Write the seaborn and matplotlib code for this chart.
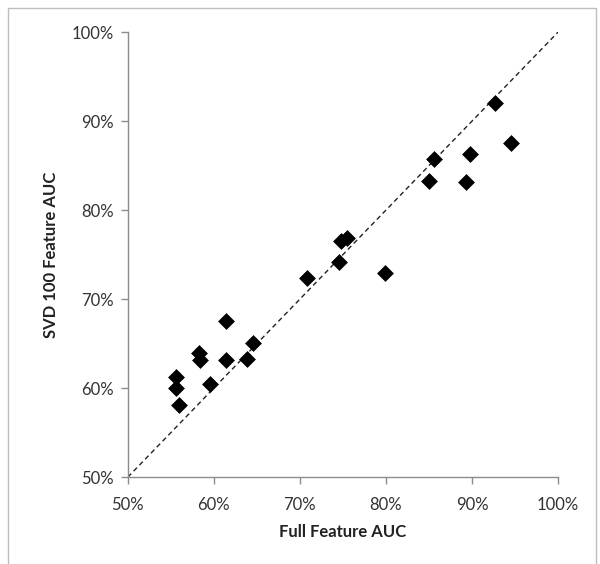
import matplotlib

matplotlib.use("Agg")
import matplotlib.pyplot as plt
import seaborn as sns
import pandas as pd
from matplotlib.patches import Rectangle
from matplotlib.ticker import PercentFormatter, MultipleLocator


full_auc = [0.556, 0.556, 0.559, 0.583, 0.584, 0.596, 0.614, 0.614, 0.639, 0.645,
            0.708, 0.745, 0.748, 0.755, 0.799, 0.850, 0.856, 0.893, 0.898, 0.927, 0.945]
svd_auc = [0.612, 0.600, 0.581, 0.639, 0.632, 0.605, 0.676, 0.632, 0.633, 0.651,
           0.724, 0.742, 0.765, 0.769, 0.729, 0.833, 0.857, 0.832, 0.863, 0.920, 0.875]
diag = [0.5, 1.0]

df = pd.DataFrame({"full": full_auc, "svd": svd_auc})

sns.set_style("white")
plt.rcParams["font.family"] = ["Lato", "DejaVu Sans"]

fig = plt.figure(figsize=(6.0, 5.64), dpi=100)
ax = fig.add_axes([0.213, 0.154, 0.717, 0.789])

# light chart border like the spreadsheet original
fig.patches.append(Rectangle((8 / 600, -0.01), 588 / 600, 1 - 8 / 564 + 0.01,
                             transform=fig.transFigure, fill=False,
                             edgecolor="#bdbdbd", linewidth=1.0))

ax.plot(diag, diag, color="#222222", linestyle=(0, (3.5, 2.5)), linewidth=1.0, zorder=1)
sns.scatterplot(data=df, x="full", y="svd", marker="D", s=65, color="black",
                edgecolor="black", linewidth=0.5, ax=ax, zorder=3)

ax.set_xlim(0.5, 1.0)
ax.set_ylim(0.5, 1.0)
ax.xaxis.set_major_locator(MultipleLocator(0.1))
ax.yaxis.set_major_locator(MultipleLocator(0.1))
ax.xaxis.set_major_formatter(PercentFormatter(1.0, decimals=0))
ax.yaxis.set_major_formatter(PercentFormatter(1.0, decimals=0))

for side in ["top", "right"]:
    ax.spines[side].set_visible(False)
for side in ["left", "bottom"]:
    ax.spines[side].set_color("#8c8c8c")
    ax.spines[side].set_linewidth(1.0)

ax.tick_params(axis="both", which="major", direction="out", length=5, width=1,
               color="#8c8c8c", labelsize=12, labelcolor="#333333",
               bottom=True, left=True)
ax.tick_params(axis="x", pad=9)
ax.tick_params(axis="y", pad=5)

ax.set_xlabel("Full Feature AUC", fontsize=12, fontweight="bold", color="#222222", labelpad=8)
ax.set_ylabel("SVD 100 Feature AUC", fontsize=12, fontweight="bold", color="#222222", labelpad=9)

fig.savefig("out.png", dpi=100)
